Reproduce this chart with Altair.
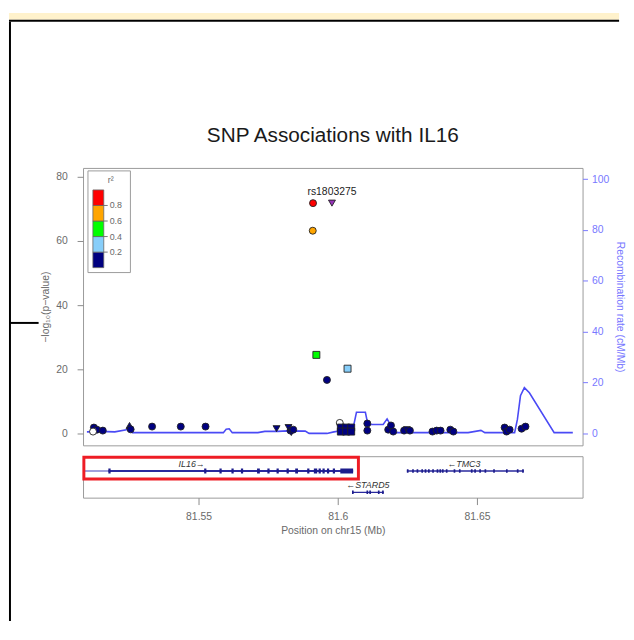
import altair as alt
import pandas as pd

# ---------------- data ----------------
# SNPs: position (Mb), -log10(p), r2 class, annotation shape
snp_pos = [81.5124, 81.5135, 81.5121, 81.5156, 81.5252, 81.5256, 81.5333, 81.5436,
           81.5525, 81.5780, 81.5823, 81.5830, 81.5833, 81.5840, 81.6007, 81.6011,
           81.6030, 81.6011, 81.6030, 81.6048, 81.6048, 81.6106, 81.6106, 81.6181,
           81.6191, 81.6199, 81.6238, 81.6248, 81.6259, 81.6340, 81.6355, 81.6369,
           81.6404, 81.6415, 81.6599, 81.6606, 81.6617, 81.6660, 81.6674,
           81.5961, 81.6035, 81.5923, 81.5910, 81.5911, 81.5979]
snp_logp = [1.85, 1.2, 0.6, 0.9, 2.5, 1.3, 2.15, 2.15,
            2.15, 1.5, 1.85, 0.9, 0.3, 1.2, 3.3, 1.85,
            1.85, 0.6, 0.6, 1.85, 0.6, 3.1, 0.9, 1.2,
            2.5, 0.6, 0.9, 1.2, 0.9, 0.6, 0.9, 0.9,
            1.2, 0.6, 1.85, 0.6, 1.2, 1.5, 2.15,
            16.7, 20.2, 24.5, 63.2, 71.8, 71.8]
snp_r2 = ["0-0.2", "0-0.2", "NA", "0-0.2", "0-0.2", "0-0.2", "0-0.2", "0-0.2",
          "0-0.2", "0-0.2", "0-0.2", "0-0.2", "0-0.2", "0-0.2", "NA", "0-0.2",
          "0-0.2", "0-0.2", "0-0.2", "0-0.2", "0-0.2", "0-0.2", "0-0.2", "0-0.2",
          "0-0.2", "0-0.2", "0-0.2", "0-0.2", "0-0.2", "0-0.2", "0-0.2", "0-0.2",
          "0-0.2", "0-0.2", "0-0.2", "0-0.2", "0-0.2", "0-0.2", "0-0.2",
          "0-0.2", "0.2-0.4", "0.4-0.6", "0.6-0.8", "0.8-1", "ref"]
snp_shape = ["circle", "circle", "circle", "circle", "triangle-up", "circle", "circle", "circle",
             "circle", "triangle-down", "triangle-down", "circle", "triangle-down", "circle", "circle", "square",
             "square", "square", "square", "square", "square", "circle", "circle", "circle",
             "circle", "circle", "circle", "triangle-down", "circle", "circle", "circle", "circle",
             "circle", "circle", "circle", "circle", "circle", "circle", "circle",
             "circle", "square", "square", "circle", "circle", "triangle-down"]
ref_snp = "rs1803275"

# Recombination rate (cM/Mb)
rec_pos = [81.5099, 81.5145, 81.5199, 81.5241, 81.5252, 81.5262, 81.5589, 81.5599,
           81.5610, 81.5621, 81.5713, 81.5738, 81.5784, 81.5819, 81.5883, 81.5897,
           81.5961, 81.5986, 81.6004, 81.6007, 81.6057, 81.6067, 81.6099, 81.6108,
           81.6163, 81.6177, 81.6192, 81.6202, 81.6468, 81.6514, 81.6528, 81.6635,
           81.6645, 81.6656, 81.6670, 81.6688, 81.6777, 81.6844]
rec_rate = [0.6, 0.8, 0.6, 1.4, 2.0, 0.3, 0.3, 1.6,
            1.8, 0.3, 0.3, 0.8, 0.8, 1.0, 0.9, 0.0,
            0.0, 0.6, 0.9, 3.1, 3.1, 8.3, 8.3, 3.5,
            3.5, 5.7, 2.9, 0.3, 0.3, 1.2, 0.3, 0.3,
            5.5, 14.8, 18.0, 16.0, 0.3, 0.3]

r2_cats = ["0-0.2", "0.2-0.4", "0.4-0.6", "0.6-0.8", "0.8-1", "ref", "NA"]
r2_colors = ["#000080", "#87cefa", "#00ff00", "#ffa500", "#ff0000", "#9632b8", "#ffffff"]

legend_lo = [0.0, 0.2, 0.4, 0.6, 0.8]
legend_hi = [0.2, 0.4, 0.6, 0.8, 1.0]
legend_ticks = [0.2, 0.4, 0.6, 0.8]

# Genes
gene_names = ["IL16", "TMC3", "STARD5"]
gene_start = [81.4763, 81.6248, 81.6051]
gene_end = [81.6055, 81.6668, 81.6165]
gene_row = [0, 0, 1]
gene_label = ["IL16\u2192", "\u2190TMC3", "\u2190STARD5"]
gene_label_pos = [81.5475, 81.6453, 81.6108]

il16_ex_start = [81.5176, 81.5520, 81.5575, 81.5618, 81.5652, 81.5710, 81.5747, 81.5780, 81.5816,
                 81.5847, 81.5890, 81.5914, 81.5931, 81.5945, 81.5961, 81.5982, 81.6009]
il16_ex_end = [81.5184, 81.5528, 81.5583, 81.5626, 81.5660, 81.5720, 81.5755, 81.5788, 81.5824,
               81.5857, 81.5898, 81.5926, 81.5939, 81.5953, 81.5969, 81.5990, 81.6055]
tmc3_ex_start = [81.6248, 81.6267, 81.6283, 81.6300, 81.6312, 81.6324, 81.6339, 81.6355, 81.6365,
                 81.6374, 81.6388, 81.6416, 81.6435, 81.6478, 81.6490, 81.6508, 81.6527, 81.6558,
                 81.6604, 81.6643, 81.6662]
tmc3_ex_end = [81.6254, 81.6273, 81.6289, 81.6306, 81.6318, 81.6330, 81.6345, 81.6361, 81.6371,
               81.6380, 81.6394, 81.6422, 81.6441, 81.6484, 81.6496, 81.6514, 81.6533, 81.6564,
               81.6610, 81.6649, 81.6668]
stard5_ex_start = [81.6051, 81.6103, 81.6113, 81.6144, 81.6159]
stard5_ex_end = [81.6057, 81.6109, 81.6119, 81.6150, 81.6165]

highlight_start = [81.5088]
highlight_end = [81.6074]

x_domain = [81.5085, 81.6879]
logp_domain = [-3.69, 82.77]
rec_domain = [-4.69, 104.4]

# ---------------- frames ----------------
snp_df = pd.DataFrame({"pos": snp_pos, "logp": snp_logp, "r2": snp_r2, "shape": snp_shape})
ref_df = snp_df[snp_df.r2 == "ref"].assign(label=ref_snp)
rec_df = pd.DataFrame({"pos": rec_pos, "rate": rec_rate})
leg_df = pd.DataFrame({"lo": legend_lo, "hi": legend_hi, "r2": r2_cats[:5]})
legt_df = pd.DataFrame({"tick": legend_ticks})
one = pd.DataFrame({"k": [0]})

genes_df = pd.DataFrame({"gene": gene_names, "start": gene_start, "end": gene_end,
                         "row": gene_row, "label": gene_label, "lpos": gene_label_pos})
exons_df = pd.concat([
    pd.DataFrame({"gene": "IL16", "start": il16_ex_start, "end": il16_ex_end}),
    pd.DataFrame({"gene": "TMC3", "start": tmc3_ex_start, "end": tmc3_ex_end}),
    pd.DataFrame({"gene": "STARD5", "start": stard5_ex_start, "end": stard5_ex_end}),
], ignore_index=True)
exons_df["row"] = exons_df["gene"].map(dict(zip(gene_names, gene_row)))
first_exon = exons_df.groupby("gene")["start"].min()
genes_df["ex0"] = genes_df["gene"].map(first_exon)
box_df = pd.DataFrame({"x1": highlight_start, "x2": highlight_end})

# ---------------- styling ----------------
W, H1, H2 = 506, 281, 42
FONT = "Liberation Sans"
GRAY_LAB = "#6a6a6a"
GRAY_TICK = "#8a8a8a"
BLUE_AX = "#7878ff"

xs = alt.Scale(domain=x_domain, nice=False, zero=False)
ys_logp = alt.Scale(domain=logp_domain, nice=False, zero=False)
ys_rec = alt.Scale(domain=rec_domain, nice=False, zero=False)
ys_leg = alt.Scale(domain=[0, 1], range=[101, 22.3], nice=False, zero=False)
fill_scale = alt.Scale(domain=r2_cats, range=r2_colors)

# decorations of the surrounding page
deco_yellow = alt.Chart(one).mark_rect(color="#fff2cc").encode(
    x=alt.value(-75), x2=alt.value(543), y=alt.value(-157), y2=alt.value(-150))
deco_hline = alt.Chart(one).mark_rect(color="#000000").encode(
    x=alt.value(-75), x2=alt.value(543), y=alt.value(-150), y2=alt.value(-148))
deco_vline = alt.Chart(one).mark_rect(color="#000000").encode(
    x=alt.value(-75), x2=alt.value(-73), y=alt.value(-148), y2=alt.value(459))
deco_short = alt.Chart(one).mark_rect(color="#000000").encode(
    x=alt.value(-75), x2=alt.value(-45), y=alt.value(156), y2=alt.value(158))

title = alt.Chart(one).mark_text(fontSize=21, color="#1a1a1a", align="center",
                                 baseline="alphabetic", font=FONT).encode(
    x=alt.value(253), y=alt.value(-26.5), text=alt.value("SNP Associations with IL16"))

rec = alt.Chart(rec_df).mark_line(color="#4a4af5", strokeWidth=1.6, clip=True).encode(
    x=alt.X("pos:Q", scale=xs, axis=None),
    y=alt.Y("rate:Q", scale=ys_rec,
            axis=alt.Axis(orient="right", values=[0, 20, 40, 60, 80, 100],
                          title="Recombination rate (cM/Mb)", tickSize=5, labelPadding=4,
                          titlePadding=6, grid=False, domain=False, labelColor=BLUE_AX,
                          tickColor=BLUE_AX, titleColor=BLUE_AX, labelFontSize=10.5,
                          titleFontSize=10.5, titleFontWeight="normal")),
)

pts = alt.Chart(snp_df).mark_point(filled=True, stroke="#222222", strokeWidth=0.9,
                                   size=50, opacity=1).encode(
    x=alt.X("pos:Q", scale=xs, axis=None),
    y=alt.Y("logp:Q", scale=ys_logp,
            axis=alt.Axis(orient="left", values=[0, 20, 40, 60, 80],
                          title="\u2212log\u2081\u2080(p\u2212value)", tickSize=6,
                          labelPadding=10, titlePadding=5, grid=False, domain=False,
                          labelColor=GRAY_LAB, tickColor=GRAY_TICK, titleColor=GRAY_LAB,
                          labelFontSize=10.5, titleFontSize=10.5, titleFontWeight="normal")),
    fill=alt.Fill("r2:N", scale=fill_scale, legend=None),
    shape=alt.Shape("shape:N", scale=None),
)

lab = alt.Chart(ref_df).mark_text(dy=-11, fontSize=10.5, color="#222222", font=FONT).encode(
    x=alt.X("pos:Q", scale=xs, axis=None),
    y=alt.Y("logp:Q", scale=ys_logp, axis=None),
    text="label:N",
)

leg_box = alt.Chart(one).mark_rect(fill="white", stroke="#9a9a9a", strokeWidth=1).encode(
    x=alt.value(5), x2=alt.value(48), y=alt.value(3), y2=alt.value(106))
leg_rect = alt.Chart(leg_df).mark_rect(stroke="#666666", strokeWidth=0.8).encode(
    x=alt.value(10), x2=alt.value(21),
    y=alt.Y("lo:Q", scale=ys_leg, axis=None), y2="hi:Q",
    fill=alt.Fill("r2:N", scale=fill_scale, legend=None),
)
leg_tick = alt.Chart(legt_df).mark_rule(color="#777777").encode(
    x=alt.value(21), x2=alt.value(25), y=alt.Y("tick:Q", scale=ys_leg, axis=None))
leg_lab = alt.Chart(legt_df).mark_text(align="left", baseline="middle", fontSize=9,
                                       color=GRAY_LAB, font=FONT).encode(
    x=alt.value(27), y=alt.Y("tick:Q", scale=ys_leg, axis=None),
    text=alt.Text("tick:Q", format=".1f"))
leg_title = alt.Chart(one).mark_text(align="center", baseline="middle", fontSize=9,
                                     color=GRAY_LAB, font=FONT).encode(
    x=alt.value(28), y=alt.value(12), text=alt.value("r\u00b2"))

top = alt.layer(deco_yellow, deco_hline, deco_vline, deco_short, title,
                rec, pts, lab, leg_box, leg_rect, leg_tick, leg_lab, leg_title
                ).resolve_scale(y="independent").properties(width=W, height=H1)

# ---------------- gene panel ----------------
gx_axis = alt.Axis(values=[81.55, 81.6, 81.65], format="~g", title="Position on chr15 (Mb)",
                   tickSize=7, labelPadding=7, titlePadding=4, domain=False, grid=False,
                   labelFontSize=10.5, titleFontSize=10.5, titleFontWeight="normal",
                   labelColor=GRAY_LAB, tickColor=GRAY_TICK, titleColor=GRAY_LAB)
rows = alt.Scale(domain=[0, 1], range=[15, 36.6], nice=False, zero=False)

lead = alt.Chart(genes_df).mark_rule(color="#a0a0dc", strokeWidth=2, clip=True).encode(
    x=alt.X("start:Q", scale=xs, axis=gx_axis), x2="ex0:Q",
    y=alt.Y("row:Q", scale=rows, axis=None))
glines = alt.Chart(genes_df).mark_rule(color="#2a2a9e", clip=True).encode(
    x=alt.X("ex0:Q", scale=xs, axis=gx_axis), x2="end:Q",
    y=alt.Y("row:Q", scale=rows, axis=None),
    strokeWidth=alt.condition(alt.datum.gene == "IL16", alt.value(2), alt.value(1.3)))
exons = alt.Chart(exons_df).mark_rule(color="#1c1c8c", strokeCap="butt", clip=True).encode(
    x=alt.X("start:Q", scale=xs, axis=gx_axis), x2="end:Q",
    y=alt.Y("row:Q", scale=rows, axis=None),
    strokeWidth=alt.condition(alt.datum.gene == "IL16", alt.value(5), alt.value(3.5)))
glabels = alt.Chart(genes_df).mark_text(fontStyle="italic", fontSize=9, color="#333333",
                                        dy=-7, font=FONT).encode(
    x=alt.X("lpos:Q", scale=xs, axis=gx_axis),
    y=alt.Y("row:Q", scale=rows, axis=None), text="label:N")
hbox = alt.Chart(box_df).mark_rect(fillOpacity=0, stroke="#ee1c25", strokeWidth=3).encode(
    x=alt.X("x1:Q", scale=xs, axis=gx_axis), x2="x2:Q",
    y=alt.value(1), y2=alt.value(23))

bottom = alt.layer(lead, glines, exons, glabels, hbox).properties(width=W, height=H2)

chart = alt.vconcat(top, bottom, spacing=11, bounds="flush").properties(
    padding=0, background="white"
).configure(font=FONT).configure_view(stroke="#9a9a9a", strokeWidth=1)

chart.save("out.html", embed_options={"renderer": "svg", "actions": False})
